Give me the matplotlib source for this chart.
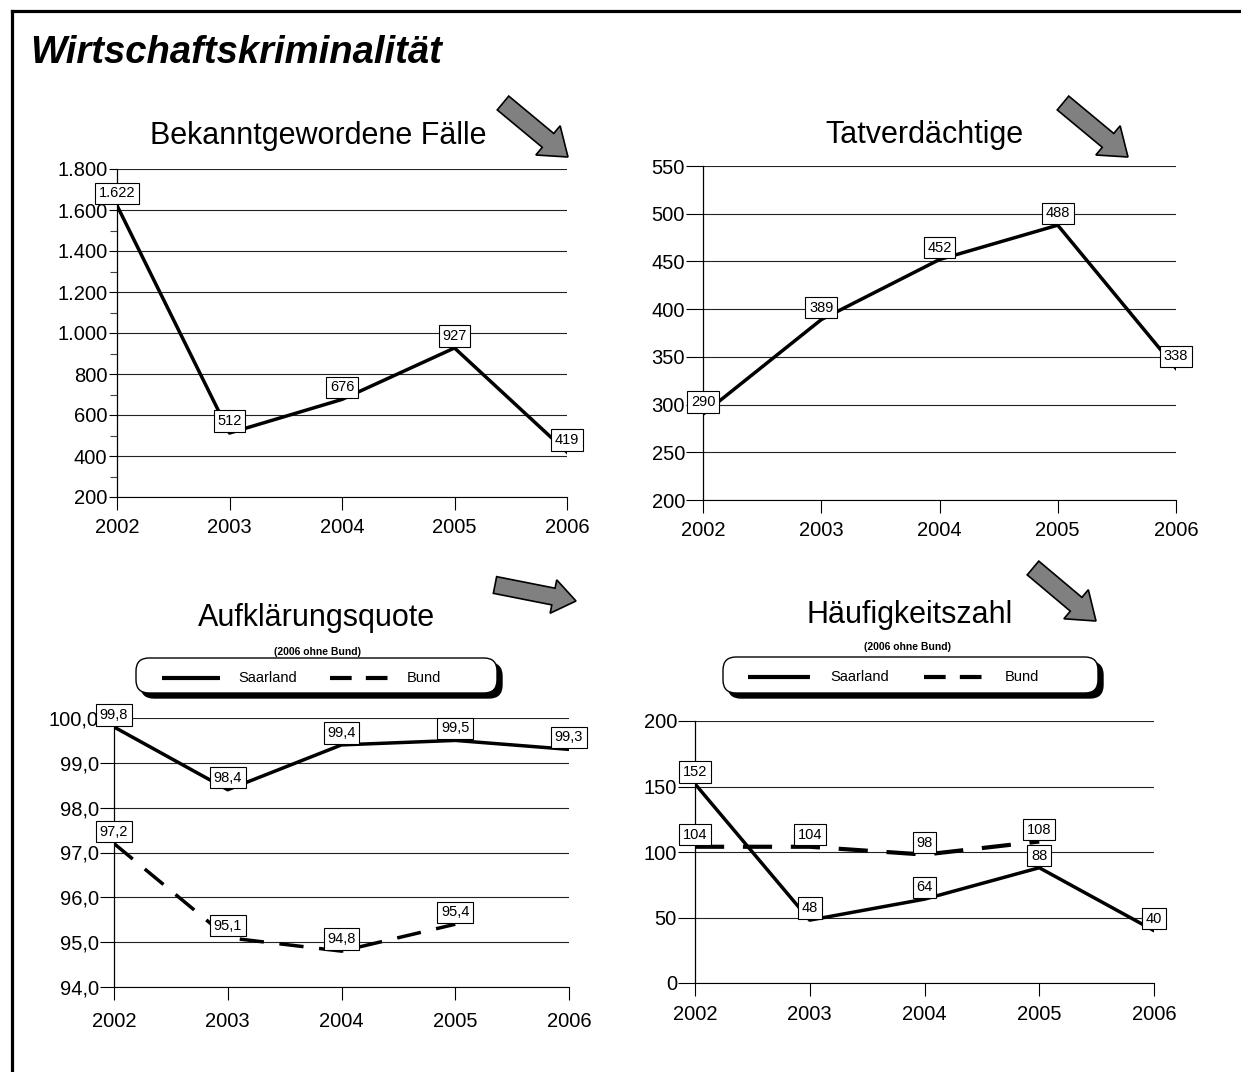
import matplotlib
matplotlib.use("Agg")
import matplotlib.pyplot as plt
from matplotlib.patches import FancyArrow, FancyBboxPatch
from matplotlib.ticker import FixedLocator, FuncFormatter

plt.rcParams['font.family'] = ['Liberation Sans', 'DejaVu Sans']

# --- data ---
years = [2002, 2003, 2004, 2005, 2006]
faelle = [1622, 512, 676, 927, 419]
tatverdaechtige = [290, 389, 452, 488, 338]
aq_saarland = [99.8, 98.4, 99.4, 99.5, 99.3]
aq_bund = [97.2, 95.1, 94.8, 95.4]          # 2006 ohne Bund
hz_saarland = [152, 48, 64, 88, 40]
hz_bund = [104, 104, 98, 108]

W, H = 1241, 1072
fig = plt.figure(figsize=(W / 100, H / 100), dpi=100)

# overlay in pixel coordinates for frame, titles, arrows, legends
ov = fig.add_axes([0, 0, 1, 1])
ov.set_xlim(0, W)
ov.set_ylim(H, 0)
ov.axis('off')


def px_axes(x0, y0, x1, y1):
    ax = fig.add_axes([x0 / W, 1 - y1 / H, (x1 - x0) / W, (y1 - y0) / H])
    ax.set_facecolor('none')
    return ax


def de_int(v, pos=None):
    return f"{v:,.0f}".replace(',', '.')


def de_dec(v, pos=None):
    return f"{v:.1f}".replace('.', ',')


def style_axes(ax, ymin, ymax, step, fmt, minor=None, ylen=6, xpad=8):
    ax.set_xlim(years[0], years[-1])
    ax.set_ylim(ymin, ymax)
    ax.set_xticks(years)
    ax.set_xticklabels([str(y) for y in years])
    ticks = []
    v = ymin
    while v <= ymax + 1e-9:
        ticks.append(v)
        v += step
    ax.yaxis.set_major_locator(FixedLocator(ticks))
    ax.yaxis.set_major_formatter(FuncFormatter(fmt))
    if minor is not None:
        ax.yaxis.set_minor_locator(FixedLocator(minor))
        ax.tick_params(axis='y', which='minor', length=5, width=0.8, color='#444')
    ax.grid(axis='y', color='#222', lw=0.8)
    ax.set_axisbelow(True)
    for s in ['top', 'right']:
        ax.spines[s].set_visible(False)
    ax.spines['left'].set_linewidth(0.9)
    ax.spines['bottom'].set_linewidth(0.8)
    ax.tick_params(axis='x', length=9, width=0.8, labelsize=14.5, pad=xpad)
    ax.tick_params(axis='y', which='major', length=ylen, width=0.8, labelsize=14.5, pad=1)


def labels(ax, xs, ys, fmt):
    for x, y in zip(xs, ys):
        ax.annotate(fmt(y), (x, y), xytext=(0, 12), textcoords='offset pixels',
                    ha='center', va='center', fontsize=10.5, zorder=6,
                    annotation_clip=False,
                    bbox=dict(boxstyle='square,pad=0.25', fc='white', ec='black', lw=0.8))


# --- frame ---
ov.plot([11.5, 11.5], [H, 10.5], color='black', lw=2.3, solid_capstyle='projecting')
ov.plot([11.5, W], [10.5, 10.5], color='black', lw=2.3, solid_capstyle='projecting')

ov.text(30, 63, 'Wirtschaftskriminalität', fontsize=27.5, fontweight='bold',
        fontstyle='italic', ha='left', va='baseline')

# --- titles ---
ov.text(318, 144, 'Bekanntgewordene Fälle', fontsize=22, ha='center', va='baseline')
ov.text(924, 143, 'Tatverdächtige', fontsize=22, ha='center', va='baseline')
ov.text(317, 626, 'Aufklärungsquote', fontsize=22, ha='center', va='baseline')
ov.text(910, 623, 'Häufigkeitszahl', fontsize=22, ha='center', va='baseline')

# --- arrows ---
arrow_kw = dict(length_includes_head=True, fc='#808080', ec='black', lw=1.2)
for (x0, y0, x1, y1) in [(503, 103, 568, 157), (1063, 103, 1128, 157),
                         (1033, 568, 1096, 621)]:
    ov.add_patch(FancyArrow(x0, y0, x1 - x0, y1 - y0, width=18, head_width=38,
                            head_length=26, **arrow_kw))
ov.add_patch(FancyArrow(495, 585, 81, 16, width=17, head_width=34,
                        head_length=23, **arrow_kw))


# --- legends ---
def legend_box(x0, y0, x1, y1, note_x, note_y, line_x, sa_x, bund_x, bund_tx):
    ov.add_patch(FancyBboxPatch((x0 + 5, y0 + 5), x1 - x0, y1 - y0,
                                boxstyle='round,pad=0,rounding_size=13',
                                fc='black', ec='black', lw=1))
    ov.add_patch(FancyBboxPatch((x0, y0), x1 - x0, y1 - y0,
                                boxstyle='round,pad=0,rounding_size=13',
                                fc='white', ec='black', lw=1))
    ym = (y0 + y1) / 2 + 2
    ov.plot(line_x, [ym, ym], color='black', lw=3, solid_capstyle='butt')
    ov.text(sa_x, ym, 'Saarland', fontsize=10.5, ha='center', va='center')
    ov.plot(bund_x, [ym, ym], color='black', lw=3, dashes=(5.2, 3.4),
            dash_capstyle='butt')
    ov.text(bund_tx, ym, 'Bund', fontsize=10.5, ha='center', va='center')
    ov.text(note_x, note_y, '(2006 ohne Bund)', fontsize=7.5, fontweight='bold',
            ha='center', va='center')


legend_box(136, 658, 497, 693, 317, 652, [162, 220], 268, [330, 388], 424)
legend_box(723, 657, 1098, 693, 908, 647, [748, 810], 860, [924, 982], 1022)

# --- panel 1: Bekanntgewordene Fälle ---
ax1 = px_axes(117, 169, 567, 497)
style_axes(ax1, 200, 1800, 200, de_int, minor=list(range(300, 1800, 200)), xpad=6)
ax1.plot(years, faelle, color='black', lw=2.5, zorder=3)
labels(ax1, years, faelle, de_int)

# --- panel 2: Tatverdächtige ---
ax2 = px_axes(703, 166, 1176, 500)
style_axes(ax2, 200, 550, 50, de_int, ylen=12, xpad=6)
ax2.plot(years, tatverdaechtige, color='black', lw=2.5, zorder=3)
labels(ax2, years, tatverdaechtige, de_int)

# --- panel 3: Aufklärungsquote ---
ax3 = px_axes(114, 718, 569, 987)
style_axes(ax3, 94, 100, 1, de_dec, ylen=10, xpad=9)
ax3.plot(years, aq_saarland, color='black', lw=2.5, zorder=3)
ax3.plot(years[:len(aq_bund)], aq_bund, color='black', lw=2.5, dashes=(7, 4.5), zorder=3)
labels(ax3, years, aq_saarland, de_dec)
labels(ax3, years[:len(aq_bund)], aq_bund, de_dec)

# --- panel 4: Häufigkeitszahl ---
ax4 = px_axes(695, 721, 1154, 983)
style_axes(ax4, 0, 200, 50, de_int, ylen=12, xpad=7)
ax4.plot(years[:len(hz_bund)], hz_bund, color='black', lw=3, dashes=(7, 4.5), zorder=3)
ax4.plot(years, hz_saarland, color='black', lw=2.5, zorder=3)
labels(ax4, years[:len(hz_bund)], hz_bund, de_int)
labels(ax4, years, hz_saarland, de_int)

fig.savefig('out.png', dpi=100)
